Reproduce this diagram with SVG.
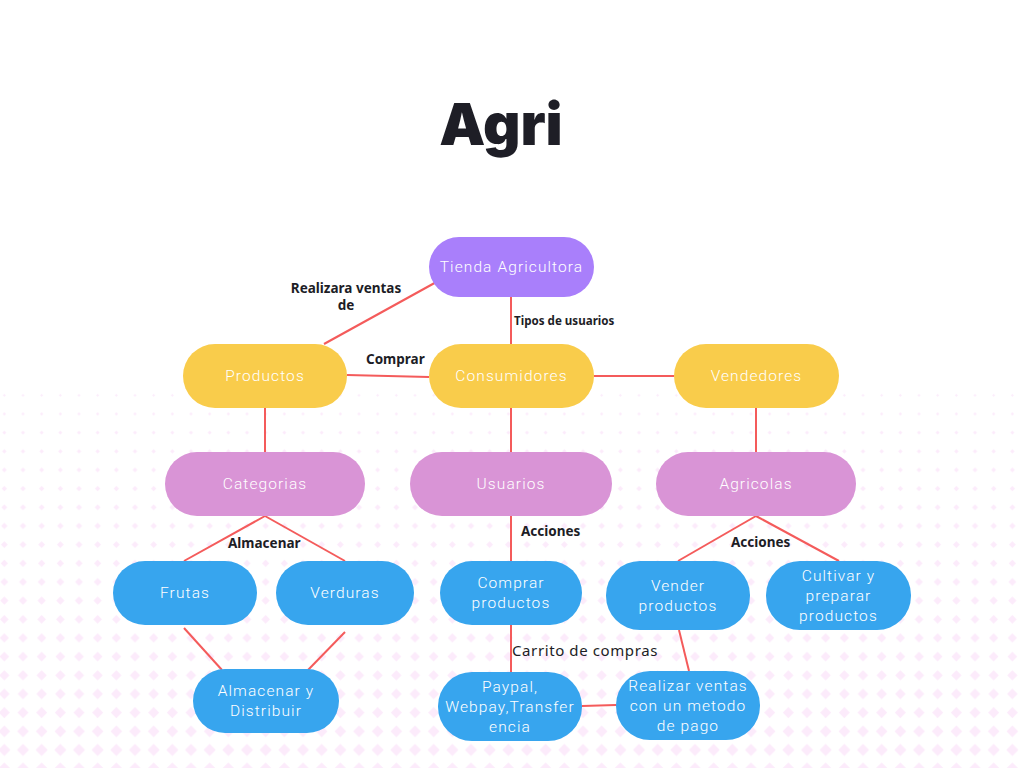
<svg xmlns="http://www.w3.org/2000/svg" width="1024" height="768" viewBox="0 0 1024 768">
<style>
.bg{fill:#fcebfb}
.node text{font-family:Roboto,"Open Sans",sans-serif;font-weight:300;font-size:15.5px;fill:#ffffff;letter-spacing:1.1px;text-anchor:middle}
.p{fill:#a97ffb}
.y{fill:#f9cc4b}
.m{fill:#d994d6}
.b{fill:#37a5ee}
.edges line{stroke:#f45b5b;stroke-width:2}
.lbl{font-family:"Noto Sans","Open Sans",sans-serif;font-weight:700;font-size:13.5px;fill:#1d1d26}
.lbl.sm{font-size:11.6px}
.lbl2{font-family:"Noto Sans","Open Sans",sans-serif;font-weight:400;font-size:15px;letter-spacing:0.6px;fill:#1d1d26}
.title{font-family:Inter,"Liberation Sans",sans-serif;font-weight:900;font-size:58px;fill:#1e1e26;text-anchor:middle}
</style>
<defs>
<pattern id="p0" x="-5" y="386" width="18.667" height="18.667" patternUnits="userSpaceOnUse"><path class="bg" d="M9.333 7.833L10.833 9.333L9.333 10.833L7.833 9.333Z"/></pattern>
<pattern id="p1" x="-5" y="404.6" width="18.667" height="18.667" patternUnits="userSpaceOnUse"><path class="bg" d="M9.333 7.6L11.066 9.333L9.333 11.066L7.6 9.333Z"/></pattern>
<pattern id="p2" x="-5" y="423.3" width="18.667" height="18.667" patternUnits="userSpaceOnUse"><path class="bg" d="M9.333 7.333L11.333 9.333L9.333 11.333L7.333 9.333Z"/></pattern>
<pattern id="p3" x="-5" y="442" width="18.667" height="18.667" patternUnits="userSpaceOnUse"><path class="bg" d="M9.333 7.1L11.566 9.333L9.333 11.566L7.1 9.333Z"/></pattern>
<pattern id="p4" x="-5" y="460.6" width="18.667" height="18.667" patternUnits="userSpaceOnUse"><path class="bg" d="M9.333 6.9L11.766 9.333L9.333 11.766L6.9 9.333Z"/></pattern>
<pattern id="p5" x="-5" y="479.3" width="18.667" height="18.667" patternUnits="userSpaceOnUse"><path class="bg" d="M9.333 6.6L12.066 9.333L9.333 12.066L6.6 9.333Z"/></pattern>
<pattern id="p6" x="-5" y="498" width="18.667" height="18.667" patternUnits="userSpaceOnUse"><path class="bg" d="M9.333 6.4L12.266 9.333L9.333 12.266L6.4 9.333Z"/></pattern>
<pattern id="p7" x="-5" y="516.6" width="18.667" height="18.667" patternUnits="userSpaceOnUse"><path class="bg" d="M9.333 6.1L12.566 9.333L9.333 12.566L6.1 9.333Z"/></pattern>
<pattern id="p8" x="-5" y="535.3" width="18.667" height="18.667" patternUnits="userSpaceOnUse"><path class="bg" d="M9.333 5.9L12.766 9.333L9.333 12.766L5.9 9.333Z"/></pattern>
<pattern id="p9" x="-5" y="554" width="18.667" height="18.667" patternUnits="userSpaceOnUse"><path class="bg" d="M9.333 5.7L12.966 9.333L9.333 12.966L5.7 9.333Z"/></pattern>
<pattern id="p10" x="-5" y="572.6" width="18.667" height="18.667" patternUnits="userSpaceOnUse"><path class="bg" d="M9.333 5.4L13.266 9.333L9.333 13.266L5.4 9.333Z"/></pattern>
<pattern id="p11" x="-5" y="591.3" width="18.667" height="18.667" patternUnits="userSpaceOnUse"><path class="bg" d="M9.333 5.2L13.466 9.333L9.333 13.466L5.2 9.333Z"/></pattern>
<pattern id="p12" x="-5" y="610" width="18.667" height="18.667" patternUnits="userSpaceOnUse"><path class="bg" d="M9.333 5L13.666 9.333L9.333 13.666L5 9.333Z"/></pattern>
<pattern id="p13" x="-5" y="628.6" width="18.667" height="18.667" patternUnits="userSpaceOnUse"><path class="bg" d="M9.333 4.7L13.966 9.333L9.333 13.966L4.7 9.333Z"/></pattern>
<pattern id="p14" x="-5" y="647.3" width="18.667" height="18.667" patternUnits="userSpaceOnUse"><path class="bg" d="M9.333 4.5L14.166 9.333L9.333 14.166L4.5 9.333Z"/></pattern>
<pattern id="p15" x="-5" y="666" width="18.667" height="18.667" patternUnits="userSpaceOnUse"><path class="bg" d="M9.333 4.2L14.466 9.333L9.333 14.466L4.2 9.333Z"/></pattern>
<pattern id="p16" x="-5" y="684.6" width="18.667" height="18.667" patternUnits="userSpaceOnUse"><path class="bg" d="M9.333 4L14.666 9.333L9.333 14.666L4 9.333Z"/></pattern>
<pattern id="p17" x="-5" y="703.3" width="18.667" height="18.667" patternUnits="userSpaceOnUse"><path class="bg" d="M9.333 3.8L14.866 9.333L9.333 14.866L3.8 9.333Z"/></pattern>
<pattern id="p18" x="-5" y="722" width="18.667" height="18.667" patternUnits="userSpaceOnUse"><path class="bg" d="M9.333 3.5L15.166 9.333L9.333 15.166L3.5 9.333Z"/></pattern>
<pattern id="p19" x="-5" y="740.6" width="18.667" height="18.667" patternUnits="userSpaceOnUse"><path class="bg" d="M9.333 3.3L15.366 9.333L9.333 15.366L3.3 9.333Z"/></pattern>
<pattern id="p20" x="-5" y="759.3" width="18.667" height="18.667" patternUnits="userSpaceOnUse"><path class="bg" d="M9.333 3.1L15.566 9.333L9.333 15.566L3.1 9.333Z"/></pattern>
</defs>
<rect width="1024" height="768" fill="#ffffff"/>
<g id="background">
<rect x="0" y="386" width="1024" height="18.667" fill="url(#p0)"/>
<rect x="0" y="404.6" width="1024" height="18.667" fill="url(#p1)"/>
<rect x="0" y="423.3" width="1024" height="18.667" fill="url(#p2)"/>
<rect x="0" y="442" width="1024" height="18.667" fill="url(#p3)"/>
<rect x="0" y="460.6" width="1024" height="18.667" fill="url(#p4)"/>
<rect x="0" y="479.3" width="1024" height="18.667" fill="url(#p5)"/>
<rect x="0" y="498" width="1024" height="18.667" fill="url(#p6)"/>
<rect x="0" y="516.6" width="1024" height="18.667" fill="url(#p7)"/>
<rect x="0" y="535.3" width="1024" height="18.667" fill="url(#p8)"/>
<rect x="0" y="554" width="1024" height="18.667" fill="url(#p9)"/>
<rect x="0" y="572.6" width="1024" height="18.667" fill="url(#p10)"/>
<rect x="0" y="591.3" width="1024" height="18.667" fill="url(#p11)"/>
<rect x="0" y="610" width="1024" height="18.667" fill="url(#p12)"/>
<rect x="0" y="628.6" width="1024" height="18.667" fill="url(#p13)"/>
<rect x="0" y="647.3" width="1024" height="18.667" fill="url(#p14)"/>
<rect x="0" y="666" width="1024" height="18.667" fill="url(#p15)"/>
<rect x="0" y="684.6" width="1024" height="18.667" fill="url(#p16)"/>
<rect x="0" y="703.3" width="1024" height="18.667" fill="url(#p17)"/>
<rect x="0" y="722" width="1024" height="18.667" fill="url(#p18)"/>
<rect x="0" y="740.6" width="1024" height="18.667" fill="url(#p19)"/>
<rect x="0" y="759.3" width="1024" height="9" fill="url(#p20)"/>
</g>
<text id="title" class="title" x="501" y="145">Agri</text>
<g id="connectors" class="edges">
<line x1="440" y1="280" x2="324" y2="344"/>
<line x1="511" y1="297" x2="511" y2="344"/>
<line x1="347" y1="375" x2="429" y2="377"/>
<line x1="594" y1="376" x2="674" y2="376"/>
<line x1="265" y1="408" x2="265" y2="452"/>
<line x1="511" y1="408" x2="511" y2="452"/>
<line x1="756" y1="408" x2="756" y2="452"/>
<line x1="265" y1="516" x2="184" y2="561"/>
<line x1="265" y1="516" x2="345" y2="561"/>
<line x1="511" y1="516" x2="511" y2="561"/>
<line x1="756" y1="516" x2="678" y2="561"/>
<line x1="756" y1="516" x2="839" y2="561"/>
<line x1="184" y1="628" x2="222" y2="670"/>
<line x1="345" y1="632" x2="308" y2="670"/>
<line x1="511" y1="625" x2="511" y2="672"/>
<line x1="679" y1="630" x2="689" y2="671"/>
<line x1="582" y1="706" x2="616" y2="705"/>
</g>
<g id="edge-labels">
<text class="lbl" x="346" y="293" text-anchor="middle">Realizara ventas</text>
<text class="lbl" x="346" y="310" text-anchor="middle">de</text>
<text class="lbl sm" x="514" y="325">Tipos de usuarios</text>
<text class="lbl" x="366" y="364">Comprar</text>
<text class="lbl" x="228" y="548">Almacenar</text>
<text class="lbl" x="521" y="536">Acciones</text>
<text class="lbl" x="731" y="547">Acciones</text>
<text class="lbl2" x="512" y="656">Carrito de compras</text>
</g>
<g id="n-tienda" class="node"><rect class="p" x="429" y="237" width="165" height="60" rx="30"/><text x="511.5" y="272">Tienda Agricultora</text></g>
<g id="n-productos" class="node"><rect class="y" x="183" y="344" width="164" height="64" rx="32"/><text x="265" y="381">Productos</text></g>
<g id="n-consumidores" class="node"><rect class="y" x="429" y="344" width="165" height="64" rx="32"/><text x="511.5" y="381">Consumidores</text></g>
<g id="n-vendedores" class="node"><rect class="y" x="674" y="344" width="165" height="64" rx="32"/><text x="756.5" y="381">Vendedores</text></g>
<g id="n-categorias" class="node"><rect class="m" x="165" y="452" width="200" height="64" rx="32"/><text x="265" y="489">Categorias</text></g>
<g id="n-usuarios" class="node"><rect class="m" x="410" y="452" width="202" height="64" rx="32"/><text x="511" y="489">Usuarios</text></g>
<g id="n-agricolas" class="node"><rect class="m" x="656" y="452" width="200" height="64" rx="32"/><text x="756" y="489">Agricolas</text></g>
<g id="n-frutas" class="node"><rect class="b" x="113" y="561" width="144" height="64" rx="32"/><text x="185" y="598">Frutas</text></g>
<g id="n-verduras" class="node"><rect class="b" x="276" y="561" width="138" height="64" rx="32"/><text x="345" y="598">Verduras</text></g>
<g id="n-comprar" class="node"><rect class="b" x="440" y="561" width="142" height="64" rx="32"/><text x="511" y="588">Comprar</text><text x="511" y="608">productos</text></g>
<g id="n-vender" class="node"><rect class="b" x="606" y="561" width="144" height="69" rx="34"/><text x="678" y="591">Vender</text><text x="678" y="611">productos</text></g>
<g id="n-cultivar" class="node"><rect class="b" x="766" y="561" width="145" height="69" rx="34"/><text x="838.5" y="581">Cultivar y</text><text x="838.5" y="601">preparar</text><text x="838.5" y="621">productos</text></g>
<g id="n-almacenar" class="node"><rect class="b" x="193" y="669" width="146" height="64" rx="32"/><text x="266" y="696">Almacenar y</text><text x="266" y="716">Distribuir</text></g>
<g id="n-paypal" class="node"><rect class="b" x="438" y="672" width="144" height="69" rx="34"/><text x="510" y="692">Paypal,</text><text x="510" y="712">Webpay,Transfer</text><text x="510" y="732">encia</text></g>
<g id="n-realizar" class="node"><rect class="b" x="616" y="671" width="144" height="69" rx="34"/><text x="688" y="691">Realizar ventas</text><text x="688" y="711">con un metodo</text><text x="688" y="731">de pago</text></g>
</svg>
